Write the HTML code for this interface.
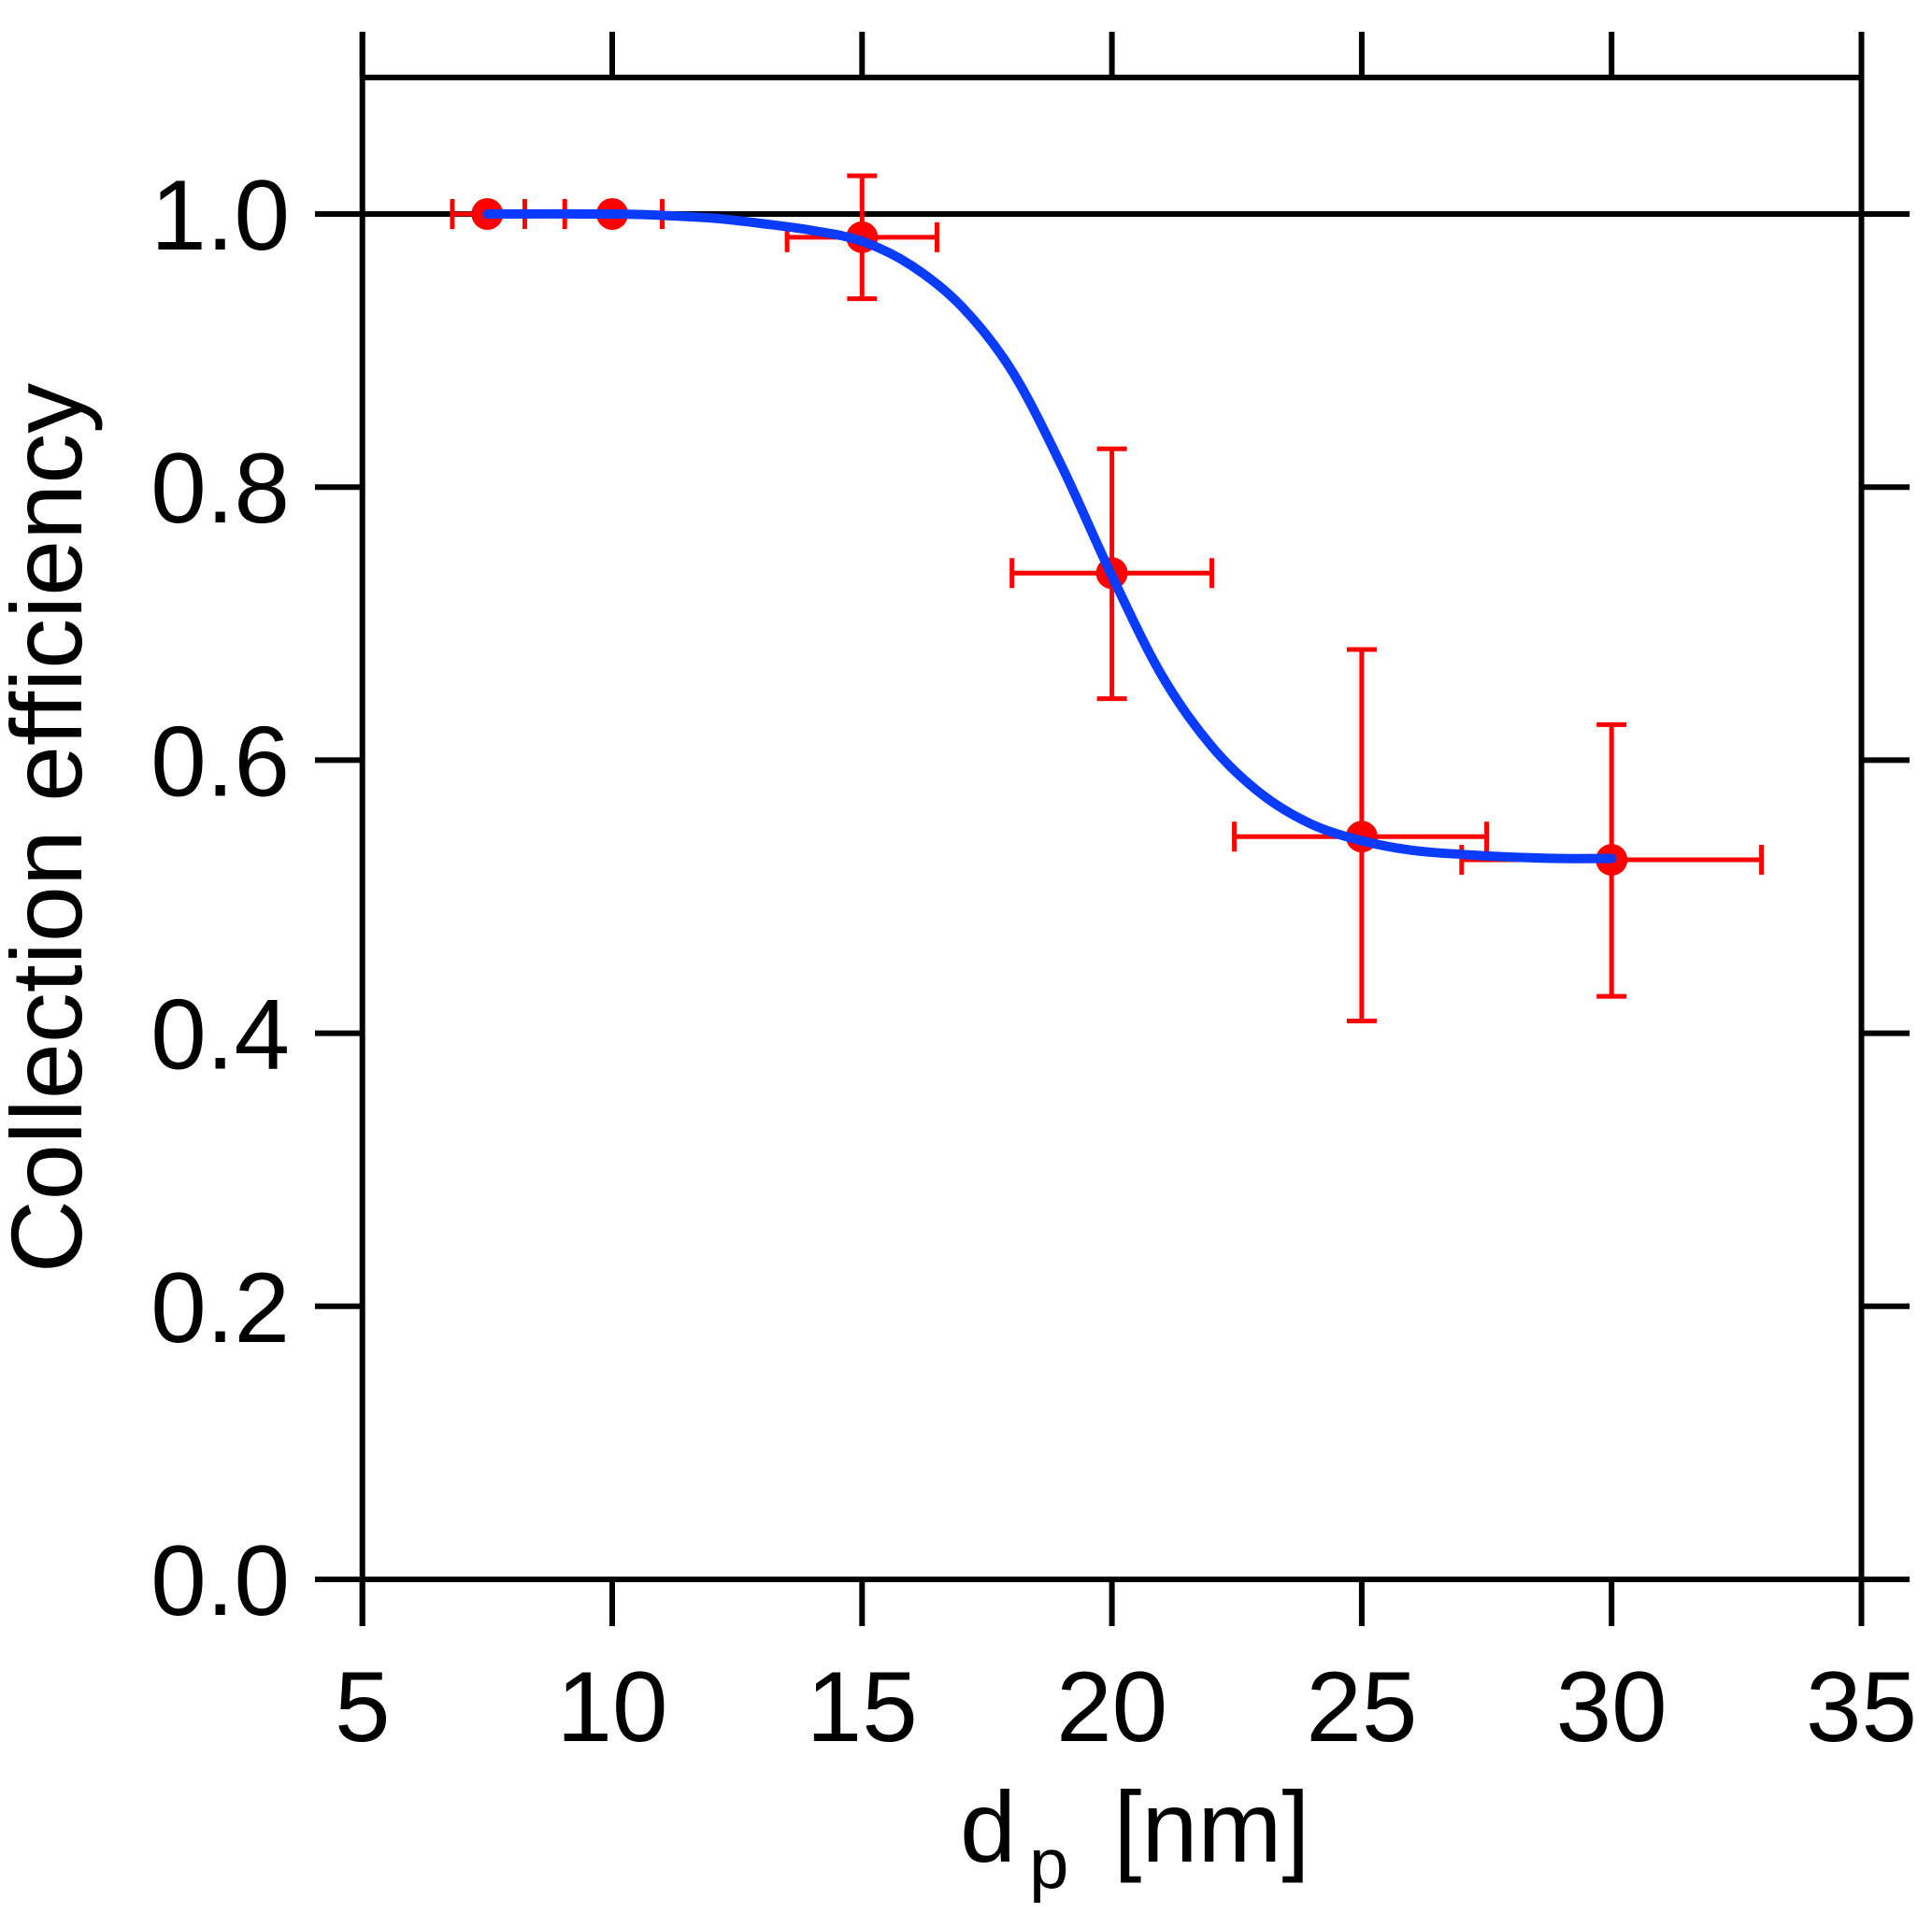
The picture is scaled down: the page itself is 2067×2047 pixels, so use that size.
<!DOCTYPE html>
<html><head><meta charset="utf-8"><style>
html,body{margin:0;padding:0;background:#fff;}
svg{display:block;font-family:"Liberation Sans",Arial,sans-serif;}
</style></head><body>
<svg id="chart" width="2067" height="2047" viewBox="0 0 2067 2047" xmlns="http://www.w3.org/2000/svg">
<text transform="translate(87,886) rotate(-90)" text-anchor="middle" font-size="108" fill="#000">Collection efficiency</text>
<text x="1027" y="1992" font-size="108" fill="#000">d<tspan font-size="76" dx="14" dy="28">p</tspan><tspan dx="48" dy="-28">[nm]</tspan></text>
</svg>
<script>
const xTicks = [5,10,15,20,25,30,35];
const yTicks = [0,0.2,0.4,0.6,0.8,1.0];
const yTickLabels = ["0.0","0.2","0.4","0.6","0.8","1.0"];
const pointX = [7.5,10,15,20,25,30];
const pointY = [1.0,1.0,0.983,0.737,0.544,0.527];
const yErrLow = [1.0,1.0,0.938,0.645,0.409,0.427];
const yErrHigh = [1.0,1.0,1.028,0.828,0.681,0.626];
const xErrLow = [6.8,9.05,13.5,18.0,22.45,27.0];
const xErrHigh = [8.25,11.0,16.5,22.0,27.5,33.0];
const fitX = [7.5,10,11,12,13,14,15,16,17,18,19,20,21,22,23,24,25,26,27,28,29,30];
const fitY = [1.0,1.0,0.999,0.997,0.993,0.988,0.980,0.962,0.932,0.885,0.815,0.735,0.662,0.610,0.575,0.553,0.541,0.534,0.531,0.529,0.528,0.528];

const svg = document.getElementById('chart');
const NS = 'http://www.w3.org/2000/svg';
const X0 = 387.7, XS = 267.3/5, Y0 = 1690, YS = 1461;
const sx = v => X0 + (v - 5) * XS;
const sy = v => Y0 - v * YS;
const L = 337, R = 2043, AL = sx(5), AR = sx(35), TOP = sy(1.1);

function line(x1,y1,x2,y2,stroke,w){
  const l = document.createElementNS(NS,'line');
  l.setAttribute('x1',x1);l.setAttribute('y1',y1);l.setAttribute('x2',x2);l.setAttribute('y2',y2);
  l.setAttribute('stroke',stroke);l.setAttribute('stroke-width',w);
  svg.appendChild(l);
  return l;
}
let el;
el = line(AL,34,AL,1740,'#000',6);


el = line(AR,34,AR,1740,'#000',6);


el = line(AL,TOP,AR,TOP,'#000',6);



yTicks.forEach((t,i)=>{
  const y = sy(t);
  let tk;
  if (t === 0 || t === 1.0) {
    tk = line(L,y,R,y,'#000',6);
  } else {
    tk = line(L,y,AL,y,'#000',6);
    const tr = line(AR,y,R,y,'#000',6);
    
    
  }
  
  
  const tx = document.createElementNS(NS,'text');
  tx.setAttribute('x',310);tx.setAttribute('y',y+38);
  tx.setAttribute('text-anchor','end');tx.setAttribute('font-size','107');
  tx.textContent = yTickLabels[i];
  
  
  svg.appendChild(tx);
});
xTicks.forEach(t=>{
  const x = sx(t);
  const a = line(x,34,x,TOP,'#000',6);
  
  
  const b = line(x,Y0,x,1740,'#000',6);
  
  
  const tx = document.createElementNS(NS,'text');
  tx.setAttribute('x',x);tx.setAttribute('y',1863);
  tx.setAttribute('text-anchor','middle');tx.setAttribute('font-size','107');
  tx.textContent = String(t);
  
  
  svg.appendChild(tx);
});

const RED = '#ff0000', CAP = 16;
pointX.forEach((px,i)=>{
  const cx = sx(px), cy = sy(pointY[i]);
  const g = document.createElementNS(NS,'g');
  
  
  svg.appendChild(g);
  const add = (x1,y1,x2,y2)=>{ const l=line(x1,y1,x2,y2,RED,5); g.appendChild(l); };
  const x1 = sx(xErrLow[i]), x2 = sx(xErrHigh[i]);
  add(x1,cy,x2,cy); add(x1,cy-CAP,x1,cy+CAP); add(x2,cy-CAP,x2,cy+CAP);
  if (yErrHigh[i] !== yErrLow[i]) {
    const y1 = sy(yErrHigh[i]), y2 = sy(yErrLow[i]);
    add(cx,y1,cx,y2); add(cx-CAP,y1,cx+CAP,y1); add(cx-CAP,y2,cx+CAP,y2);
  }
});
pointX.forEach((px,i)=>{
  const c = document.createElementNS(NS,'circle');
  c.setAttribute('cx',sx(px));c.setAttribute('cy',sy(pointY[i]));c.setAttribute('r',17);
  c.setAttribute('fill',RED);
  
  
  svg.appendChild(c);
});

const P = fitX.map((v,i)=>[sx(v),sy(fitY[i])]);
let d = 'M'+P[0][0]+','+P[0][1];
for (let i=0;i<P.length-1;i++){
  const p0=P[Math.max(0,i-1)], p1=P[i], p2=P[i+1], p3=P[Math.min(P.length-1,i+2)];
  const c1=[p1[0]+(p2[0]-p0[0])/6, p1[1]+(p2[1]-p0[1])/6];
  const c2=[p2[0]-(p3[0]-p1[0])/6, p2[1]-(p3[1]-p1[1])/6];
  d += ' C'+c1[0]+','+c1[1]+' '+c2[0]+','+c2[1]+' '+p2[0]+','+p2[1];
}
const path = document.createElementNS(NS,'path');
path.setAttribute('d',d);path.setAttribute('fill','none');
path.setAttribute('stroke','#0a3cff');path.setAttribute('stroke-width',10);
path.setAttribute('stroke-linecap','round');


svg.appendChild(path);
</script>
</body></html>
